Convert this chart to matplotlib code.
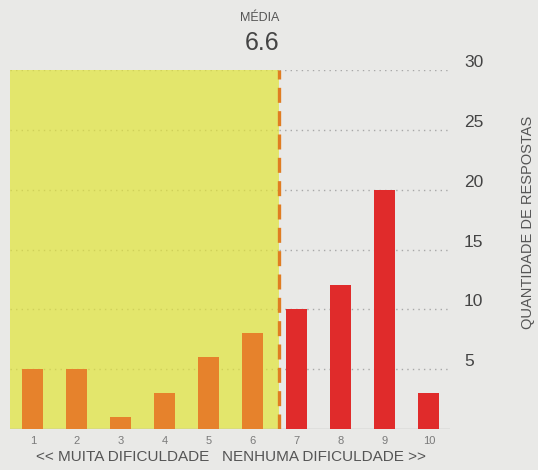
import matplotlib.pyplot as plt
from matplotlib.transforms import blended_transform_factory

plt.rcParams['font.family'] = ['Liberation Sans', 'DejaVu Sans']

# dados
notas = [1, 2, 3, 4, 5, 6, 7, 8, 9, 10]
respostas = [5, 5, 1, 3, 6, 8, 10, 12, 20, 3]
media = 6.6
yticks = [5, 10, 15, 20, 25, 30]

bg = '#e9e9e7'
fig = plt.figure(figsize=(5.38, 4.70), dpi=100, facecolor=bg)
ax = fig.add_axes([0.0186, 0.0872, 0.8178, 0.7638], facecolor=bg)

ax.set_xlim(0.48, 10.48)
ax.set_ylim(0, 30)

# area amarela ate a media
ax.axvspan(0.48, media, ymin=0, ymax=1, color='#e3e66c', zorder=0, lw=0)

# linhas de grade pontilhadas (mais fracas dentro do amarelo)
for v in yticks:
    ax.plot([0.48, media], [v, v], color='#cfd05a', lw=1.0, ls=(0, (1, 3)), zorder=1)
    ax.plot([media, 10.48], [v, v], color='#a8a8a8', lw=1.0, ls=(0, (1, 3)), zorder=1)
ax.axhline(0, color='#b8b8b8', lw=1.0, zorder=1)

cores = ['#e6822c' if n <= 6 else '#e02b2b' for n in notas]
ax.bar(notas, respostas, width=0.48, color=cores, zorder=3)

# linha da media
ax.axvline(media, color='#e07d22', lw=2.4, ls=(0, (4.5, 2.5)), zorder=4)

ax.set_xticks(notas)
ax.set_xticklabels([str(n) for n in notas], fontsize=8, color='#7a7a7a')
ax.tick_params(axis='x', length=0, pad=5)
ax.yaxis.tick_right()
ax.set_yticks(yticks)
ax.set_yticklabels([str(v) for v in yticks], fontsize=12.5, color='#444444', va='bottom')
ax.tick_params(axis='y', length=0, pad=10)
for s in ax.spines.values():
    s.set_visible(False)

# media acima da linha tracejada
tr = blended_transform_factory(ax.transData, fig.transFigure)
ax.text(media, 0.962, 'MÉDIA', fontsize=9, color='#555555', ha='right', va='center',
        transform=tr)
ax.text(media, 0.908, '6.6', fontsize=18, color='#444444', ha='right', va='center',
        transform=tr)

fig.text(0.982, 0.527, 'QUANTIDADE DE RESPOSTAS', fontsize=10.5, color='#555555',
         rotation=90, ha='center', va='center')
fig.text(0.43, 0.012, '<< MUITA DIFICULDADE   NENHUMA DIFICULDADE >>', fontsize=11,
         color='#555555', ha='center', va='bottom')

fig.savefig('out.png', dpi=100, facecolor=bg)
